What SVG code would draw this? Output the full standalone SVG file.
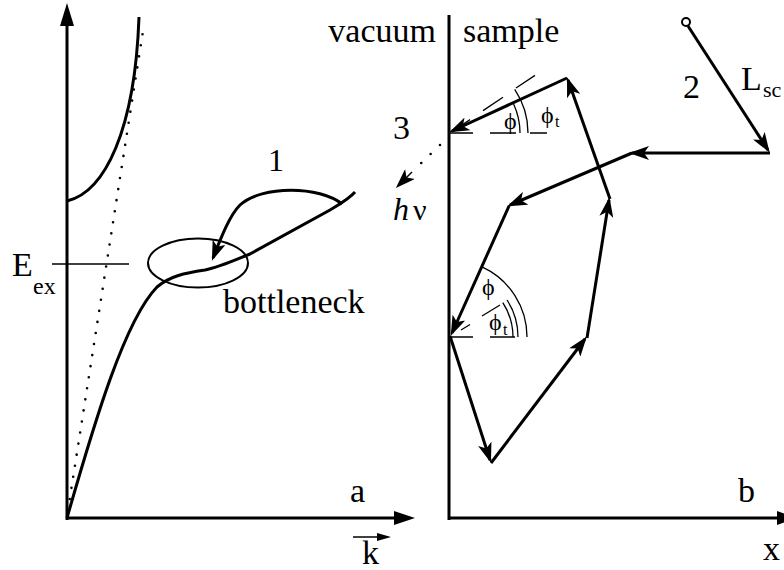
<svg xmlns="http://www.w3.org/2000/svg" width="784" height="570" viewBox="0 0 784 570">
<defs>
<marker id="ah" viewBox="0 0 20 14" refX="17" refY="7" markerWidth="20" markerHeight="14" markerUnits="userSpaceOnUse" orient="auto">
<path d="M0,0 L20,7 L0,14 L5,7 z" fill="#000"/>
</marker>
</defs>
<rect width="784" height="570" fill="#fff"/>

<g id="panel-a">
<g id="axes-a" stroke="#000" stroke-width="3" fill="none">
<line x1="67" y1="520" x2="67" y2="22"/>
<line x1="66" y1="518" x2="398" y2="518"/>
</g>
<polygon points="67,3 60,26 74,26" fill="#000"/>
<polygon points="415,518 394,511 394,525" fill="#000"/>
<g id="upper-branch"><path d="M67,201 C105,192 135,130 139,17" stroke="#000" stroke-width="3" fill="none"/></g>
<g id="photon-line"><line x1="68" y1="510" x2="143" y2="31" stroke="#000" stroke-width="2.6" stroke-linecap="round" stroke-dasharray="0 11.2"/></g>
<g id="lower-branch"><path d="M67,518 C95,420 125,320 157,287 C170,276 185,273 205,270 C220,267 235,260 250,254 L330,210 C340,204 349,199 355,192" stroke="#000" stroke-width="3" fill="none"/></g>
<g id="eex-line"><line x1="52" y1="264" x2="129" y2="264" stroke="#000" stroke-width="1.5"/></g>
<g id="bottleneck-ellipse"><ellipse cx="198" cy="263" rx="50" ry="24.5" stroke="#000" stroke-width="2" fill="none"/></g>
<text x="12" y="276" font-size="34" font-family="Liberation Serif, serif">E</text>
<text x="33" y="294" font-size="24" font-family="Liberation Serif, serif">ex</text>
<text x="223" y="313" font-size="34" font-family="Liberation Serif, serif">bottleneck</text>
<text x="268" y="171" font-size="32" font-family="Liberation Serif, serif">1</text>
<text x="350" y="502" font-size="34" font-family="Liberation Serif, serif">a</text>
<text x="362" y="564" font-size="34" font-family="Liberation Serif, serif">k</text>
<line x1="353" y1="537" x2="388" y2="537" stroke="#000" stroke-width="1.5"/>
<polygon points="391,537 377,533 377,541" fill="#000"/>
</g>

<g id="panel-b">
<g id="axes-b" stroke="#000" stroke-width="3" fill="none">
<line x1="449" y1="15" x2="449" y2="520"/>
<line x1="448" y1="518" x2="782" y2="518"/>
</g>
<polygon points="797,518 777,511 777,525" fill="#000"/>
<text x="436" y="42" font-size="34" text-anchor="end" font-family="Liberation Serif, serif">vacuum</text>
<text x="463" y="42" font-size="34" font-family="Liberation Serif, serif">sample</text>
<text x="738" y="502" font-size="34" font-family="Liberation Serif, serif">b</text>
<text x="763" y="560" font-size="34" font-family="Liberation Serif, serif">x</text>
<text x="683" y="98" font-size="34" font-family="Liberation Serif, serif">2</text>
<text x="741" y="90" font-size="34" font-family="Liberation Serif, serif">L</text>
<text x="763" y="97" font-size="22" font-family="Liberation Serif, serif">sc</text>
<text x="393" y="139" font-size="34" font-family="Liberation Serif, serif">3</text>
<text x="393" y="220" font-size="32" font-style="italic" font-family="Liberation Serif, serif">h</text>
<text x="413" y="220" font-size="30" font-family="Liberation Serif, serif">ν</text>

<g id="start-point"><circle cx="686" cy="22" r="4" fill="#fff" stroke="#000" stroke-width="2"/></g>

<g id="angles-top">
<g stroke="#000" stroke-width="1.3" fill="none">
<path d="M450,133 H473 M490,133 H516 M530,133 H547"/>
<path d="M460.8,125.7 L470,119.6 M483,110.6 L503,97.2 M516,88 L535,75.4"/>
<path d="M513.6,103.9 A70,70 0 0,1 520,133"/>
<path d="M514.7,89.4 A78,78 0 0,1 528,133"/>
</g>
<text x="504" y="129" font-size="24" font-family="Liberation Serif, serif">ϕ</text>
<text x="541" y="123" font-size="24" font-family="Liberation Serif, serif">ϕ</text>
<text x="555" y="127" font-size="16" font-family="Liberation Serif, serif">t</text>
</g>

<g id="angles-bottom">
<g stroke="#000" stroke-width="1.3" fill="none">
<path d="M450,337 H473 M490,337 H515"/>
<path d="M461,330 L470,324.5 M482,316 L500,305"/>
<path d="M482.5,267.2 A77,77 0 0,1 527,337"/>
<path d="M502.8,302.7 A63,63 0 0,1 513,337"/>
<path d="M507,300 A68,68 0 0,1 518,337"/>
</g>
<text x="482" y="295" font-size="24" font-family="Liberation Serif, serif">ϕ</text>
<text x="489" y="330" font-size="24" font-family="Liberation Serif, serif">ϕ</text>
<text x="503" y="335" font-size="16" font-family="Liberation Serif, serif">t</text>
</g>
</g>

<g id="connectors" stroke="#000" stroke-width="3" fill="none" marker-end="url(#ah)">
<path d="M342,204 C320,186 262,185 240,205 C230,215 222,235 213,258"/>
<line x1="688" y1="26" x2="768" y2="150"/>
<line x1="770" y1="153" x2="632" y2="153"/>
<line x1="632" y1="153" x2="510" y2="205"/>
<line x1="509" y1="206" x2="452" y2="333"/>
<line x1="450" y1="336" x2="490" y2="460"/>
<line x1="491" y1="463" x2="585" y2="339"/>
<line x1="587" y1="338" x2="609" y2="200"/>
<line x1="610" y1="199" x2="568" y2="80"/>
<line x1="567" y1="78" x2="452" y2="131"/>
<line x1="412" y1="172" x2="398" y2="186" stroke-width="1.5"/>
</g>
<line x1="440" y1="145" x2="414" y2="170" stroke="#000" stroke-width="2.6" stroke-linecap="round" stroke-dasharray="0 13"/>
</svg>
